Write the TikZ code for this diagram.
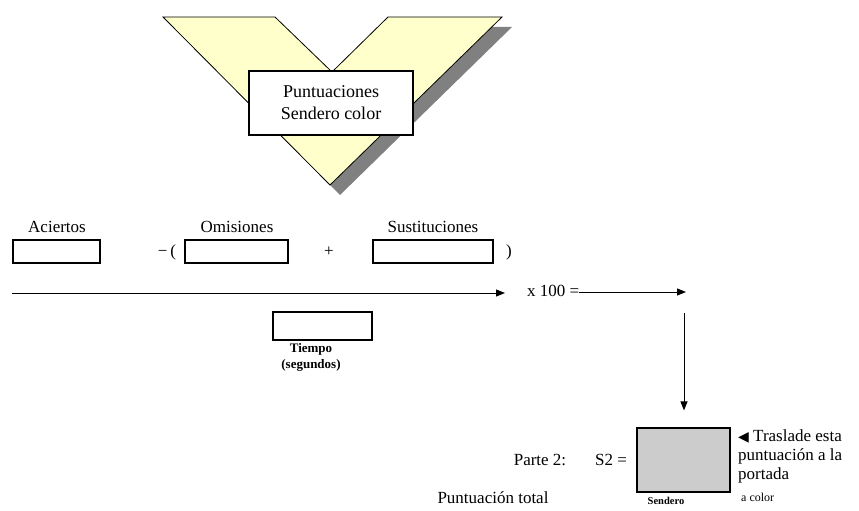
\documentclass[tikz,border=0pt]{standalone}
\usepackage{fontspec}
\setmainfont{Liberation Serif}
\usetikzlibrary{arrows.meta}
\definecolor{vyellow}{HTML}{FFFFCC}
\definecolor{shadowgray}{HTML}{808080}
\definecolor{s2gray}{HTML}{CCCCCC}
\begin{document}
\begin{tikzpicture}[x=1pt,y=-1pt,
  lbl/.style={inner sep=0pt,font=\fontsize{17}{20}\selectfont},
  small/.style={inner sep=0pt,font=\fontsize{11}{14}\selectfont\bfseries},
  entry/.style={draw=black,line width=1.2pt,inner sep=0pt},
  arr/.style={-{Triangle[length=9pt,width=7pt]},line width=1pt}]
\useasboundingbox (0,0) rectangle (859,511);
% V shape shadow and shape
\fill[shadowgray] (173,27) -- (285,27) -- (342,82) -- (398,27) -- (512,27) -- (340,195) -- cycle;
\draw[fill=vyellow,line width=0.8pt] (163,17) -- (275,17) -- (332,72) -- (388,17) -- (502,17) -- (330,185) -- cycle;
\node[draw=black,fill=white,line width=1.2pt,minimum width=164pt,minimum height=64pt,inner sep=0pt,
  align=center,font=\fontsize{18}{22}\selectfont] (title) at (331,103) {Puntuaciones\\Sendero color};
% labels
\node[lbl] (lac) at (57,227) {Aciertos};
\node[lbl] (lom) at (237,227) {Omisiones};
\node[lbl] (lsu) at (433,227) {Sustituciones};
% entry boxes
\node[entry,minimum width=87pt,minimum height=23pt] (ac) at (56.5,251.5) {};
\node[entry,minimum width=103pt,minimum height=23pt] (om) at (236.5,251.5) {};
\node[entry,minimum width=120pt,minimum height=23pt] (su) at (433,251.5) {};
\node[lbl] (minus) at (167,252) {\textminus\,(};
\node[lbl] (plus) at (329,252) {+};
\node[lbl] (close) at (509,252) {)};
% main arrow
\coordinate (start) at (12,293);
\node[lbl,anchor=west] (times) at (527,291) {x 100 =};
\draw[arr] (start) -- (505,293);
\coordinate (turn) at (686,292);
\draw[arr] (times.east |- turn) -- (turn);
% tiempo
\node[entry,minimum width=99pt,minimum height=28pt] (tiempo) at (322.5,326) {};
\node[inner sep=0pt,align=center,font=\fontsize{13}{16}\selectfont\bfseries] (tlbl) at (311,357) {Tiempo\\(segundos)};
% S2 box
\node[entry,fill=s2gray,minimum width=93pt,minimum height=64pt] (s2) at (683.5,460) {};
\coordinate (down) at (684,313);
\draw[arr,shorten >=17pt] (down) -- (s2.north -| down);
\node[lbl] (s2eq) at (611,460) {S2 =};
\node[lbl] (parte) at (540,460) {Parte 2:};
\node[lbl] (total) at (493,498) {Puntuación total};
\node[small,font=\fontsize{10.5}{12}\selectfont\bfseries] (sendero) at (666,501) {Sendero};
\node[lbl,anchor=west,align=left,font=\fontsize{17}{19}\selectfont] (note) at (738,456) {{\fontspec{DejaVu Sans}\fontsize{14}{14}\selectfont ◀} Traslade esta\\puntuación a la\\portada};
\node[small,anchor=west,font=\fontsize{12}{14}\selectfont] (acolor) at (741,497) {a color};
\end{tikzpicture}
\end{document}
